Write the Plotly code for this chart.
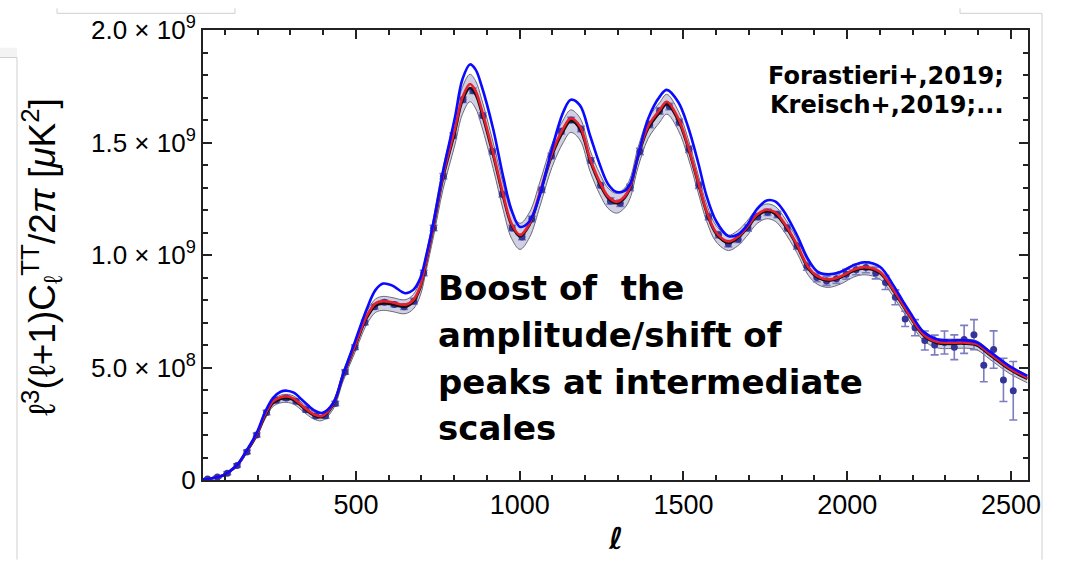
import numpy as np
import plotly.graph_objects as go

# ---------------- data (values in units of 1e9 muK^2) ----------------
ell_nodes = [2, 30, 60, 94, 120, 141, 167, 197, 222, 247, 270, 289, 310, 340, 370, 396, 430, 461,
             497, 533, 560, 583, 610, 650, 675, 696, 715, 736, 766, 802, 825, 848, 865, 884, 919,
             950, 975, 1001, 1030, 1062, 1098, 1133, 1156, 1184, 1215, 1245, 1270, 1296, 1320,
             1337, 1361, 1392, 1428, 1449, 1484, 1514, 1545, 1571, 1600, 1637, 1665, 1693, 1725,
             1754, 1780, 1804, 1846, 1881, 1910, 1942, 1980, 2020, 2054, 2100, 2141, 2170, 2192,
             2232, 2273, 2310, 2354, 2395, 2436, 2497, 2550]

red_model = [0.0, 0.002, 0.008, 0.02, 0.045, 0.073, 0.131, 0.205, 0.29, 0.35, 0.368, 0.371, 0.362,
             0.325, 0.293, 0.284, 0.336, 0.467, 0.598, 0.729, 0.785, 0.795, 0.79, 0.779, 0.80, 0.86,
             0.98, 1.127, 1.354, 1.559, 1.70, 1.76, 1.73, 1.646, 1.454, 1.266, 1.14, 1.089, 1.14,
             1.28, 1.45, 1.563, 1.608, 1.572, 1.428, 1.323, 1.26, 1.237, 1.26, 1.303, 1.441, 1.572,
             1.646, 1.681, 1.608, 1.485, 1.325, 1.194, 1.10, 1.06, 1.08, 1.122, 1.18, 1.201, 1.19,
             1.15, 1.048, 0.946, 0.905, 0.891, 0.905, 0.935, 0.946, 0.925, 0.845, 0.78, 0.729,
             0.648, 0.614, 0.61, 0.611, 0.604, 0.56, 0.495, 0.454]

blue_model = [0.0, 0.002, 0.008, 0.02, 0.045, 0.074, 0.133, 0.21, 0.3, 0.365, 0.392, 0.397, 0.388,
              0.35, 0.312, 0.298, 0.34, 0.47, 0.615, 0.76, 0.845, 0.873, 0.865, 0.83, 0.845, 0.895,
              1.0, 1.14, 1.37, 1.61, 1.78, 1.847, 1.825, 1.75, 1.56, 1.345, 1.2, 1.125, 1.15, 1.27,
              1.47, 1.635, 1.69, 1.665, 1.53, 1.4, 1.315, 1.28, 1.285, 1.315, 1.44, 1.605, 1.705,
              1.734, 1.68, 1.57, 1.41, 1.26, 1.15, 1.084, 1.09, 1.13, 1.205, 1.242, 1.238, 1.2,
              1.09, 0.98, 0.925, 0.914, 0.925, 0.955, 0.968, 0.948, 0.865, 0.795, 0.745, 0.66,
              0.626, 0.62, 0.621, 0.612, 0.57, 0.505, 0.463]

black_model = [0.0, 0.002, 0.008, 0.02, 0.044, 0.071, 0.128, 0.2, 0.283, 0.342, 0.36, 0.363, 0.355,
               0.32, 0.288, 0.28, 0.332, 0.462, 0.592, 0.72, 0.775, 0.785, 0.78, 0.77, 0.792, 0.852,
               0.972, 1.118, 1.342, 1.545, 1.685, 1.742, 1.714, 1.632, 1.442, 1.256, 1.132, 1.083,
               1.134, 1.272, 1.44, 1.55, 1.595, 1.56, 1.418, 1.314, 1.252, 1.23, 1.253, 1.296,
               1.432, 1.561, 1.635, 1.67, 1.598, 1.476, 1.317, 1.187, 1.094, 1.054, 1.074, 1.116,
               1.173, 1.194, 1.183, 1.143, 1.042, 0.94, 0.899, 0.886, 0.9, 0.93, 0.94, 0.919, 0.84,
               0.775, 0.724, 0.643, 0.609, 0.605, 0.606, 0.599, 0.555, 0.49, 0.449]

band_halfwidth = [0.001, 0.002, 0.003, 0.004, 0.005, 0.006, 0.008, 0.01, 0.013, 0.015, 0.017, 0.018,
                  0.018, 0.017, 0.016, 0.016, 0.018, 0.022, 0.025, 0.028, 0.03, 0.031, 0.031, 0.031,
                  0.032, 0.034, 0.037, 0.042, 0.05, 0.056, 0.06, 0.061, 0.061, 0.06, 0.058, 0.058,
                  0.058, 0.058, 0.056, 0.054, 0.052, 0.05, 0.05, 0.049, 0.047, 0.046, 0.045, 0.044,
                  0.044, 0.044, 0.044, 0.044, 0.044, 0.044, 0.043, 0.042, 0.04, 0.038, 0.036, 0.034,
                  0.034, 0.033, 0.033, 0.033, 0.033, 0.032, 0.031, 0.03, 0.03, 0.03, 0.029, 0.028,
                  0.028, 0.027, 0.025, 0.024, 0.023, 0.022, 0.021, 0.021, 0.02, 0.02, 0.019, 0.018,
                  0.017]

data_ell = [47, 77, 107, 137, 167, 197, 227, 257, 287, 317, 347, 377, 407, 437, 467, 497, 527, 557,
            587, 617, 647, 677, 707, 737, 767, 797, 827, 857, 887, 917, 947, 977, 1007, 1037, 1067,
            1097, 1127, 1157, 1187, 1217, 1247, 1277, 1307, 1337, 1367, 1397, 1427, 1457, 1487,
            1517, 1547, 1577, 1607, 1637, 1667, 1697, 1727, 1757, 1787, 1817, 1847, 1877, 1907,
            1937, 1967, 1997, 2027, 2057, 2087, 2117, 2147, 2177, 2207, 2237, 2267, 2297, 2327,
            2357, 2387, 2417, 2447, 2477, 2507]

data_val = [0.005, 0.013, 0.03, 0.065, 0.125, 0.2, 0.3, 0.355, 0.365, 0.35, 0.312, 0.285, 0.285,
            0.34, 0.48, 0.59, 0.70, 0.77, 0.79, 0.78, 0.77, 0.795, 0.92, 1.12, 1.35, 1.53, 1.69,
            1.73, 1.62, 1.46, 1.27, 1.12, 1.08, 1.16, 1.29, 1.44, 1.55, 1.6, 1.56, 1.42, 1.31, 1.24,
            1.23, 1.30, 1.46, 1.58, 1.64, 1.66, 1.59, 1.47, 1.31, 1.17, 1.09, 1.05, 1.07, 1.12,
            1.17, 1.19, 1.18, 1.12, 1.04, 0.95, 0.9, 0.885, 0.895, 0.915, 0.935, 0.945, 0.92,
            0.878, 0.812, 0.716, 0.677, 0.62, 0.60, 0.611, 0.59, 0.625, 0.646, 0.51, 0.58, 0.445,
            0.397]

data_err = [0.004, 0.005, 0.006, 0.007, 0.008, 0.009, 0.01, 0.01, 0.01, 0.01, 0.01, 0.01, 0.01,
            0.01, 0.01, 0.01, 0.01, 0.01, 0.01, 0.01,
            0.012, 0.012, 0.012, 0.012, 0.012, 0.012, 0.012, 0.012, 0.012, 0.012, 0.012, 0.012,
            0.012, 0.012, 0.012, 0.012, 0.012, 0.012, 0.012, 0.012, 0.012,
            0.014, 0.014, 0.014, 0.014, 0.014, 0.014, 0.014, 0.014, 0.014, 0.014, 0.014, 0.014,
            0.014, 0.014, 0.014, 0.014, 0.014, 0.014, 0.014, 0.014,
            0.018, 0.019, 0.02, 0.021, 0.022, 0.023, 0.024, 0.026,
            0.031, 0.033, 0.034, 0.036, 0.042, 0.044, 0.051, 0.055, 0.062, 0.067, 0.073, 0.083,
            0.096, 0.13]

y_tickvals = [0, 0.5, 1.0, 1.5, 2.0]
y_ticktext = ["0", "5.0 × 10<sup>8</sup>", "1.0 × 10<sup>9</sup>",
              "1.5 × 10<sup>9</sup>", "2.0 × 10<sup>9</sup>"]
x_tickvals = [500, 1000, 1500, 2000, 2500]
x_ticktext = ["500", "1000", "1500", "2000", "2500"]

annot_main = ["Boost of  the", "amplitude/shift of", "peaks at intermediate", "scales"]
annot_refs = ["Forastieri+,2019;", "Kreisch+,2019;..."]

# ---------------- geometry helpers (pixel -> paper) ----------------
L, R, T, B = 203, 1028, 22, 480
W, H = 1066, 561


def px(x):
    return (x - L) / (R - L)


def py(y):
    return (B - y) / (B - T)


black_arr = np.array(black_model)
hw = np.array(band_halfwidth)
upper = black_arr + hw
lower = black_arr - hw

fig = go.Figure()

# error band
fig.add_trace(go.Scatter(x=ell_nodes, y=lower, mode="lines",
                         line=dict(color="#6a6a78", width=1, shape="spline", smoothing=1.0),
                         hoverinfo="skip"))
fig.add_trace(go.Scatter(x=ell_nodes, y=upper, mode="lines", fill="tonexty",
                         fillcolor="rgba(200,200,225,0.85)",
                         line=dict(color="#6a6a78", width=1, shape="spline", smoothing=1.0),
                         hoverinfo="skip"))

# data points
fig.add_trace(go.Scatter(x=data_ell, y=data_val, mode="markers",
                         marker=dict(color="#34349a", size=7),
                         error_y=dict(type="data", array=data_err, color="#7c7cc0",
                                      thickness=1.6, width=4)))

# model curves
fig.add_trace(go.Scatter(x=ell_nodes, y=black_model, mode="lines",
                         line=dict(color="#111111", width=2.5, shape="spline", smoothing=1.0)))
fig.add_trace(go.Scatter(x=ell_nodes, y=red_model, mode="lines",
                         line=dict(color="#e8202e", width=2.6, shape="spline", smoothing=1.0)))
fig.add_trace(go.Scatter(x=ell_nodes, y=blue_model, mode="lines",
                         line=dict(color="#0a0aff", width=2.6, shape="spline", smoothing=1.0)))

annotations = []
# main text block
centers = [285, 332, 380, 427]
for txt, cy in zip(annot_main, centers):
    annotations.append(dict(x=px(436), y=py(cy), xref="paper", yref="paper",
                            xanchor="left", yanchor="middle", showarrow=False,
                            text="<b>" + txt + "</b>",
                            font=dict(family="DejaVu Sans", size=34, color="#000")))
for txt, cy in zip(annot_refs, [69, 98]):
    annotations.append(dict(x=px(1006), y=py(cy), xref="paper", yref="paper",
                            xanchor="right", yanchor="middle", showarrow=False,
                            text="<b>" + txt + "</b>",
                            font=dict(family="DejaVu Sans", size=24, color="#000")))
# axis titles
annotations.append(dict(x=px(42), y=py(253), xref="paper", yref="paper",
                        xanchor="center", yanchor="middle", showarrow=False, textangle=-90,
                        text="ℓ<sup>3</sup>(ℓ+1)C<sub>ℓ</sub><sup>TT</sup>/2<i>π</i> [<i>μ</i>K<sup>2</sup>]",
                        font=dict(family="Liberation Sans", size=37, color="#000")))
annotations.append(dict(x=px(615), y=py(540), xref="paper", yref="paper",
                        xanchor="center", yanchor="middle", showarrow=False,
                        text="<b><i>ℓ</i></b>",
                        font=dict(family="DejaVu Sans", size=30, color="#000")))

# slide artefacts (thin gray frames of neighbouring boxes)
gray = "#cfcfcf"
shapes = [
    dict(type="line", xref="paper", yref="paper", x0=px(57), x1=px(235), y0=py(5), y1=py(5),
         line=dict(color=gray, width=1)),
    dict(type="line", xref="paper", yref="paper", x0=px(57), x1=px(57), y0=py(0), y1=py(5),
         line=dict(color=gray, width=1)),
    dict(type="line", xref="paper", yref="paper", x0=px(235), x1=px(235), y0=py(0), y1=py(5),
         line=dict(color=gray, width=1)),
    dict(type="rect", xref="paper", yref="paper", x0=px(0), x1=px(17), y0=py(40), y1=py(50),
         fillcolor="#f3f3f3", line=dict(width=0)),
    dict(type="line", xref="paper", yref="paper", x0=px(0), x1=px(17), y0=py(50), y1=py(50),
         line=dict(color=gray, width=1)),
    dict(type="line", xref="paper", yref="paper", x0=px(17), x1=px(17), y0=py(50), y1=py(561),
         line=dict(color=gray, width=1)),
    dict(type="line", xref="paper", yref="paper", x0=px(960), x1=px(960), y0=py(0), y1=py(5),
         line=dict(color=gray, width=1)),
    dict(type="line", xref="paper", yref="paper", x0=px(960), x1=px(1042), y0=py(5), y1=py(5),
         line=dict(color=gray, width=1)),
    dict(type="line", xref="paper", yref="paper", x0=px(1042), x1=px(1042), y0=py(5), y1=py(561),
         line=dict(color=gray, width=1)),
]

axis_common = dict(showline=True, linewidth=2, linecolor="#222", mirror="allticks",
                   ticks="inside", ticklen=9, tickwidth=1.6, tickcolor="#222",
                   showgrid=False, zeroline=False)

fig.update_layout(
    width=W, height=H,
    margin=dict(l=L, r=W - R, t=T, b=H - B),
    plot_bgcolor="white", paper_bgcolor="white",
    showlegend=False,
    xaxis=dict(range=[33, 2552], tickvals=x_tickvals, ticktext=x_ticktext,
               tickfont=dict(family="Liberation Sans", size=27, color="#000"),
               minor=dict(dtick=100, tick0=0, ticks="inside", ticklen=5, tickwidth=1.6,
                          tickcolor="#222"),
               **axis_common),
    yaxis=dict(range=[0, 2.0], tickvals=y_tickvals, ticktext=y_ticktext,
               tickfont=dict(family="Liberation Sans", size=26, color="#000"),
               minor=dict(dtick=0.1, tick0=0, ticks="inside", ticklen=5, tickwidth=1.6,
                          tickcolor="#222"),
               **axis_common),
    annotations=annotations,
    shapes=shapes,
)

fig.write_html("out.html")
